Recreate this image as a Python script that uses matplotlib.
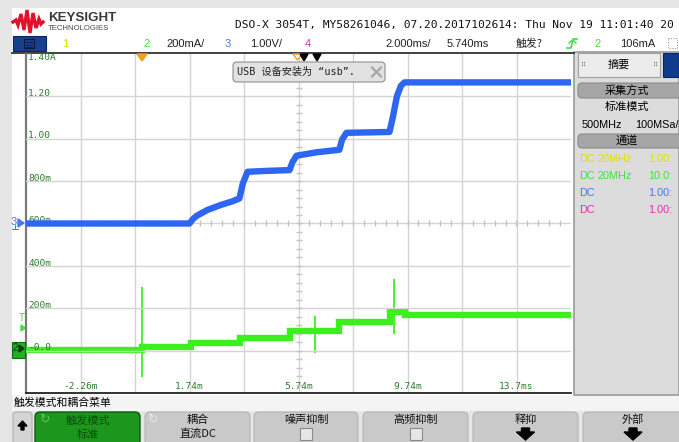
import numpy as np
import matplotlib.pyplot as plt
from matplotlib.patches import Rectangle, FancyBboxPatch, Polygon

# channel 2: current (200mA/div), step levels between time edges (ms)
green_edges = [-4.26, -0.02, 1.80, 3.60, 5.41, 7.24, 9.10, 9.65, 15.74]
green_amps = [-0.008, 0.003, 0.025, 0.048, 0.080, 0.120, 0.167, 0.156]
spike_t = [-0.02, 6.36, 9.26]
spike_hi = [0.288, 0.151, 0.325]
spike_lo = [-0.137, -0.024, 0.066]

# channel 3: voltage (1.00V/div)
blue_t = [-4.26, 1.74, 1.86, 2.0, 2.4, 2.9, 3.3, 3.57, 3.70, 3.87, 4.5, 5.41,
          5.52, 5.67, 6.4, 7.24, 7.34, 7.50, 8.3, 9.08, 9.2, 9.35, 9.5, 9.63, 15.74]
blue_v = [0.0, 0.0, 0.10, 0.18, 0.32, 0.44, 0.52, 0.59, 0.95, 1.22, 1.24, 1.26,
          1.45, 1.60, 1.68, 1.74, 1.98, 2.14, 2.15, 2.16, 2.5, 3.0, 3.25, 3.33, 3.33]

time_ticks = [-2.26, 1.74, 5.74, 9.74, 13.74]
time_labels = ['-2.26m', '1.74m', '5.74m', '9.74m', '13.7ms']
amp_ticks = [0.0, 0.2, 0.4, 0.6, 0.8, 1.0, 1.2]
amp_labels = ['-0.0', '200m', '400m', '600m', '800m', '1.00', '1.20']

t_left, t_div = -4.26, 2.0
amp_center, amp_div = 0.587, 0.2

CJK = ['Noto Sans CJK SC', 'DejaVu Sans']
MONO = ['DejaVu Sans Mono', 'Noto Sans CJK SC']
LAB = '#2a7d2a'
YEL, GRN, BLU, MAG = '#e0e000', '#3ee03e', '#4a78e8', '#e030b0'

fig = plt.figure(figsize=(6.79, 4.42), dpi=100)
fig.patch.set_facecolor('#e6e6e6')

# background layer in pixel coords
bg = fig.add_axes([0, 0, 1, 1], zorder=0)
bg.set_xlim(0, 679); bg.set_ylim(442, 0); bg.axis('off')


def rect(a, x0, y0, x1, y1, **kw):
    a.add_patch(Rectangle((x0, y0), x1 - x0, y1 - y0, **kw))


def rbox(a, x0, y0, x1, y1, r=4, **kw):
    a.add_patch(FancyBboxPatch((x0, y0), x1 - x0, y1 - y0,
                               boxstyle='round,pad=0,rounding_size=%g' % r, **kw))


rect(bg, 12, 8, 679, 52, color='white', lw=0)
rect(bg, 12, 52, 574, 395, color='white', lw=0)
rect(bg, 12, 395, 679, 411, color='#f4f4f4', lw=0)
rect(bg, 574, 52, 679, 395, facecolor='#dcdcdc', edgecolor='#9a9a9a', lw=1.2)
bg.plot([12, 574], [52.5, 52.5], color='#333333', lw=1.3)

# logo
logo_x = [13, 16, 18, 21, 24, 27, 30, 33, 36, 39, 41, 43]
logo_y = [22, 20, 25, 14, 30, 10, 33, 13, 28, 19, 24, 22]
bg.plot(logo_x, logo_y, color='#e0112b', lw=2.4, solid_joinstyle='miter')
bg.text(48, 18, 'KEYSIGHT', fontsize=9.6, fontweight='bold', color='#3a3a3a',
        family='Liberation Sans', va='center')
bg.text(48, 28.5, 'TECHNOLOGIES', fontsize=5.6, color='#4a4a4a',
        family='Liberation Sans', va='center')

bg.text(235, 25, 'DSO-X 3054T, MY58261046, 07.20.2017102614: Thu Nov 19 11:01:40 20',
        fontsize=8.1, family=MONO, va='center', color='#111111')

# channel row
rect(bg, 13, 36, 46, 51, facecolor='#17408f', edgecolor='#0a2560', lw=0.8)
rect(bg, 24, 39, 34, 48, facecolor='none', edgecolor='#0a1a3a', lw=0.8)
for yy in (42, 44.5, 47):
    bg.plot([26, 32], [yy, yy], color='#0a1a3a', lw=0.6)
row = [(62, '1', YEL), (143, '2', GRN), (166, '200mA/', '#222222'), (225, '3', BLU),
       (250, '1.00V/', '#222222'), (305, '4', MAG), (385, '2.000ms/', '#222222'),
       (447, '5.740ms', '#222222'), (594, '2', GRN), (620, '106mA', '#222222')]
for x, s, c in row:
    bg.text(x, 44, s, fontsize=8, color=c, family='Liberation Sans', va='center')
bg.text(516, 44, '触发?', fontsize=7.8, color='#222222', family=CJK, va='center')
bg.plot([567, 571, 573, 577], [48, 48, 39, 39], color=GRN, lw=1.2)
bg.plot([569, 572.5, 576], [43, 40, 43], color=GRN, lw=1.0)
rect(bg, 668, 38, 677, 48, facecolor='none', edgecolor='#888888', lw=0.7, ls=':')

# right summary panel
rect(bg, 578, 53, 660, 77, facecolor='#ececec', edgecolor='#a0a0a0', lw=0.8)
bg.text(619, 65, '摘要', fontsize=8, family=CJK, ha='center', va='center')
bg.text(584, 65, '⠿', fontsize=5, family=['DejaVu Sans'], ha='center', va='center', color='#777777')
bg.text(656, 65, '⠿', fontsize=5, family=['DejaVu Sans'], ha='center', va='center', color='#777777')
rect(bg, 663, 53, 679, 77, facecolor='#0f3b8c', edgecolor='#0a2560', lw=0.8)
rbox(bg, 578, 83, 682, 98, r=4, facecolor='#a6a6a6', edgecolor='#8a8a8a', lw=0.8)
bg.text(627, 90.5, '采集方式', fontsize=8, family=CJK, ha='center', va='center')
bg.text(627, 107, '标准模式', fontsize=8, family=CJK, ha='center', va='center')
bg.text(582, 125, '500MHz', fontsize=7.8, family='Liberation Sans', va='center')
bg.text(635, 125, '100MSa/', fontsize=7.8, family='Liberation Sans', va='center')
rbox(bg, 578, 134, 682, 148, r=4, facecolor='#a6a6a6', edgecolor='#8a8a8a', lw=0.8)
bg.text(627, 141, '通道', fontsize=8, family=CJK, ha='center', va='center')
panel_rows = [(159, YEL, '20MHz', '1.00:'), (176, GRN, '20MHz', '10.0:'),
              (193, BLU, '', '1.00:'), (210, MAG, '', '1.00:')]
for yy, c, bw, pr in panel_rows:
    bg.text(579, yy, 'DC', fontsize=7.8, color=c, family='Liberation Sans', va='center')
    bg.text(598, yy, bw, fontsize=7.8, color=c, family='Liberation Sans', va='center')
    bg.text(648, yy, pr, fontsize=7.8, color=c, family='Liberation Sans', va='center')

# bottom menu
bg.text(14, 402.5, '触发模式和耦合菜单', fontsize=7.8, family=CJK, va='center')
rbox(bg, 13, 412, 32, 446, r=3, facecolor='#d4d4d4', edgecolor='#b0b0b0', lw=0.8)
bg.add_patch(Polygon([(22.5, 421), (18, 426), (21, 426), (21, 430), (24, 430),
                      (24, 426), (27, 426)], closed=True, color='black'))
rbox(bg, 35, 412, 140, 446, r=5, facecolor='#1c961c', edgecolor='#0c5a0c', lw=1.0)
bg.text(88, 421, '触发模式', fontsize=8, family=CJK, ha='center', va='center', color='#0b4d0b')
bg.text(88, 435, '标准', fontsize=8, family=CJK, ha='center', va='center', color='#0b4d0b')
bg.text(44, 419, '↻', fontsize=9, family=['DejaVu Sans'], ha='center', va='center', color='#5fc05f')
buttons = [(145, 250, '耦合', '直流DC', None), (254, 358, '噪声抑制', '', 'box'),
           (363, 468, '高频抑制', '', 'box'), (473, 578, '释抑', '', 'arrow'),
           (583, 690, '外部', '', 'arrow')]
for x0, x1, top, sub, mark in buttons:
    rbox(bg, x0, 412, x1, 446, r=5, facecolor='#c9c9c9', edgecolor='#b4b4b4', lw=0.8)
    cx = (x0 + x1) / 2 if x1 < 680 else 633
    bg.text(cx, 420, top, fontsize=8, family=CJK, ha='center', va='center', color='#111111')
    if sub:
        bg.text(cx, 434, sub, fontsize=8, family=CJK, ha='center', va='center', color='#111111')
    if mark == 'box':
        rect(bg, cx - 6, 428, cx + 6, 440, facecolor='#e6e6e6', edgecolor='#8a8a8a', lw=0.8)
    if mark == 'arrow':
        bg.add_patch(Polygon([(cx - 4, 428), (cx + 4, 428), (cx + 4, 432), (cx + 9, 432),
                              (cx, 440), (cx - 9, 432), (cx - 4, 432)], closed=True, color='black'))
bg.text(152, 419, '↻', fontsize=9, family=['DejaVu Sans'], ha='center', va='center', color='#e8e8e8')

# scope graticule
ax = fig.add_axes([26 / 679, 1 - 393 / 442, 545 / 679, 339 / 442], zorder=2)
ax.set_facecolor('white')
ax.set_xlim(t_left, t_left + 10 * t_div)
ax.set_ylim(amp_center - 4 * amp_div, amp_center + 4 * amp_div)
ax.set_xticks([]); ax.set_yticks([])
for s in ('top', 'right'):
    ax.spines[s].set_visible(False)
ax.spines['left'].set_color('#7a7a7a'); ax.spines['left'].set_linewidth(1.6)
ax.spines['bottom'].set_color('#222222'); ax.spines['bottom'].set_linewidth(1.3)

axb = ax.twinx()
axb.set_ylim(-4, 4)
axb.axis('off')

for k in range(1, 10):
    ax.axvline(t_left + k * t_div, color='#d4d4d4', lw=1.0, zorder=1)
for k in range(-3, 4):
    axb.axhline(k, color='#d4d4d4', lw=1.0, zorder=1)
t_mid = t_left + 5 * t_div
axb.plot(np.full(39, t_mid), np.arange(-3.8, 3.9, 0.2), ls='none', marker='_',
         ms=4, mew=1.0, color='#c4c4c4', zorder=1)
axb.plot(np.arange(t_left + 0.4, t_left + 10 * t_div, 0.4), np.zeros(49), ls='none',
         marker='|', ms=4, mew=1.0, color='#c4c4c4', zorder=1)

# traces
ax.stairs(green_amps, green_edges, baseline=None, color='#3cf01e', lw=4.6, zorder=3)
ax.vlines(spike_t, spike_lo, spike_hi, color='#3cf01e', lw=1.3, zorder=3)
axb.plot(blue_t, blue_v, color='#2d66f0', lw=4.6, zorder=3, solid_joinstyle='round')

# axis labels
for v, s in zip(amp_ticks, amp_labels):
    ax.text(t_left + 0.08, v, s, fontsize=6.8, family='DejaVu Sans Mono', color=LAB,
            va='center', ha='left', zorder=4)
ax.text(t_left + 0.08, 1.37, '1.40A', fontsize=6.8, family='DejaVu Sans Mono', color=LAB,
        va='center', ha='left', zorder=4)
for t, s in zip(time_ticks, time_labels):
    ax.text(t, 0.018, s, transform=ax.get_xaxis_transform(), fontsize=6.8,
            family='DejaVu Sans Mono', color=LAB, ha='center', va='center', zorder=4)

# foreground overlay: markers and popup
fg = fig.add_axes([0, 0, 1, 1], zorder=5)
fg.set_xlim(0, 679); fg.set_ylim(442, 0); fg.axis('off')
fg.patch.set_alpha(0)
fg.add_patch(Polygon([(137, 54), (147, 54), (142, 61)], closed=True, color='#f0a020'))
fg.add_patch(Polygon([(293, 54), (302, 54), (297.5, 60)], closed=True,
                     facecolor='white', edgecolor='#f0a020', lw=1.0))
fg.add_patch(Polygon([(300, 54), (308, 54), (304, 61)], closed=True, color='black'))
fg.add_patch(Polygon([(313, 54), (321, 54), (317, 61)], closed=True, color='black'))

rbox(fg, 233, 62, 385, 82, r=4, facecolor='#e2e2e2', edgecolor='#9a9a9a', lw=0.9)
fg.text(237, 72, 'USB 设备安装为 “usb”.', fontsize=7.3, family=MONO, va='center', color='#222222')
fg.plot([372, 381], [67.5, 76.5], color='#a8a8a8', lw=1.6)
fg.plot([372, 381], [76.5, 67.5], color='#a8a8a8', lw=1.6)

# channel ground markers on the left edge
fg.text(11, 222, '3', fontsize=8, color=BLU, family='Liberation Sans', va='center')
fg.add_patch(Polygon([(18, 219), (24, 223), (18, 227)], closed=True, color=BLU))
fg.plot([15, 15, 12, 18], [225, 229, 229, 229], color=BLU, lw=0.7)
fg.text(19, 318, 'T', fontsize=7, color=GRN, family='DejaVu Sans Mono', va='center')
fg.add_patch(Polygon([(21, 325), (25, 328), (21, 331)], closed=True, color=GRN))
rect(fg, 12, 342, 25, 358, facecolor='#22b022', edgecolor='#0e6e0e', lw=0.8)
fg.text(13, 348, '2', fontsize=7, color='#0a3a0a', family='Liberation Sans', va='center')
fg.add_patch(Polygon([(19, 345), (24, 348.5), (19, 352)], closed=True, color='#0a3a0a'))

fig.savefig('out.png', dpi=100, facecolor=fig.get_facecolor())
